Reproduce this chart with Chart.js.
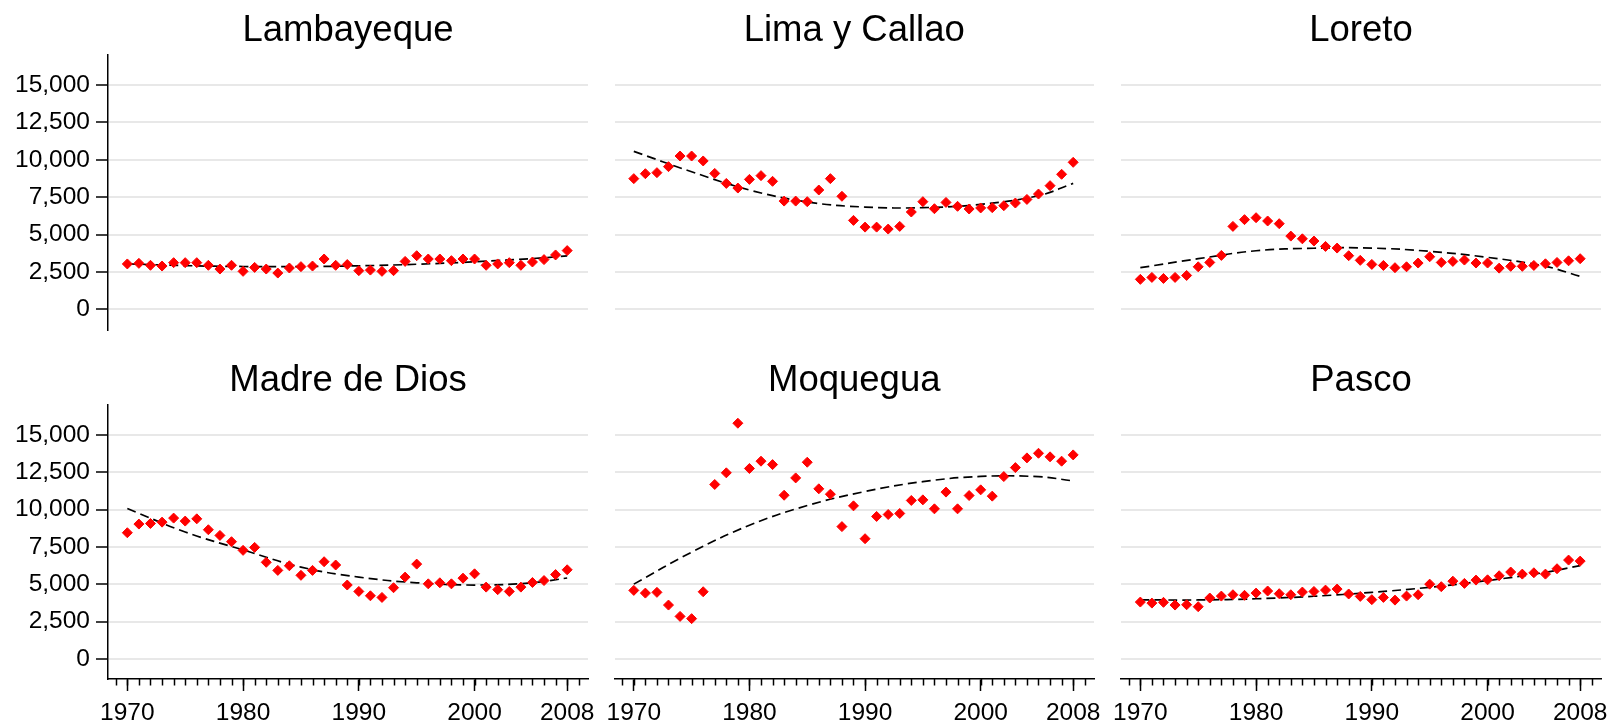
<!DOCTYPE html>
<html>
<head>
<meta charset="utf-8">
<script src="https://cdn.jsdelivr.net/npm/chart.js@4"></script>
<style>
  body { margin: 0; background: #fff; width: 1612px; height: 723px; overflow: hidden; position: relative; }
  canvas { position: absolute; }
</style>
</head>
<body>
<canvas id="c0"></canvas>
<canvas id="c1"></canvas>
<canvas id="c2"></canvas>
<canvas id="c3"></canvas>
<canvas id="c4"></canvas>
<canvas id="c5"></canvas>
<script>
const years = [1970, 1971, 1972, 1973, 1974, 1975, 1976, 1977, 1978, 1979,
  1980, 1981, 1982, 1983, 1984, 1985, 1986, 1987, 1988, 1989,
  1990, 1991, 1992, 1993, 1994, 1995, 1996, 1997, 1998, 1999,
  2000, 2001, 2002, 2003, 2004, 2005, 2006, 2007, 2008];
const fitYears = [1970, 1975, 1980, 1985, 1990, 1995, 2000, 2005, 2008];

const regions = ['Lambayeque', 'Lima y Callao', 'Loreto', 'Madre de Dios', 'Moquegua', 'Pasco'];

const lambayeque = [3040, 3080, 2950, 2900, 3125, 3125, 3125, 2950, 2700, 2950,
  2545, 2810, 2700, 2430, 2770, 2860, 2900, 3370, 2950, 3000,
  2590, 2630, 2545, 2590, 3210, 3590, 3370, 3370, 3260, 3370,
  3370, 2950, 3040, 3125, 2950, 3170, 3330, 3640, 3930];
const lambayequeFit = [3050, 2930, 2870, 2865, 2915, 3020, 3185, 3400, 3580];

const lima = [8740, 9070, 9140, 9540, 10250, 10250, 9920, 9090, 8420, 8110,
  8690, 8940, 8560, 7240, 7240, 7200, 7980, 8740, 7560, 5950,
  5500, 5500, 5370, 5550, 6510, 7200, 6730, 7150, 6890, 6710,
  6780, 6800, 6930, 7110, 7350, 7710, 8270, 9030, 9830];
const limaFit = [10560, 9200, 7980, 7180, 6840, 6800, 7020, 7600, 8420];

const loreto = [2010, 2140, 2070, 2140, 2270, 2850, 3140, 3610, 5550, 6000,
  6130, 5910, 5730, 4900, 4720, 4570, 4210, 4100, 3590, 3280,
  3010, 2940, 2790, 2850, 3100, 3520, 3140, 3210, 3300, 3100,
  3100, 2760, 2880, 2880, 2940, 3050, 3140, 3250, 3390];
const loretoFit = [2790, 3390, 3920, 4090, 4100, 3880, 3480, 2880, 2210];

const madreDeDios = [8450, 9030, 9070, 9160, 9430, 9230, 9380, 8650, 8270, 7850,
  7270, 7470, 6470, 5930, 6240, 5600, 5930, 6510, 6290, 4950,
  4520, 4230, 4120, 4770, 5480, 6350, 5030, 5100, 5030, 5410,
  5700, 4810, 4640, 4520, 4810, 5120, 5250, 5650, 5970];
const madreDeDiosFit = [10070, 8500, 7300, 6150, 5480, 5100, 4950, 5100, 5420];

const moquegua = [4590, 4410, 4460, 3610, 2850, 2700, 4500, 11680, 12460, 15780,
  12750, 13240, 13010, 10960, 12120, 13170, 11390, 11030, 8860, 10250,
  8050, 9540, 9670, 9740, 10610, 10650, 10050, 11170, 10050, 10940,
  11320, 10900, 12210, 12810, 13460, 13770, 13530, 13240, 13660];
const moqueguaFit = [5010, 7150, 8950, 10270, 11210, 11870, 12220, 12200, 11920];

const pasco = [3810, 3740, 3790, 3610, 3630, 3500, 4080, 4210, 4300, 4260,
  4410, 4550, 4370, 4300, 4480, 4520, 4610, 4680, 4350, 4190,
  3970, 4120, 3940, 4210, 4300, 5010, 4840, 5210, 5060, 5280,
  5300, 5570, 5820, 5680, 5770, 5680, 6040, 6620, 6550];
const pascoFit = [3960, 3950, 4030, 4200, 4460, 4800, 5250, 5800, 6250];

const yTickValues = [0, 2500, 5000, 7500, 10000, 12500, 15000];
const yTickLabels = ['0', '2,500', '5,000', '7,500', '10,000', '12,500', '15,000'];
const xTickValues = [1970, 1980, 1990, 2000, 2008];
const xTickLabels = ['1970', '1980', '1990', '2000', '2008'];

const pointSeries = [lambayeque, lima, loreto, madreDeDios, moquegua, pasco];
const fitSeries = [lambayequeFit, limaFit, loretoFit, madreDeDiosFit, moqueguaFit, pascoFit];

Chart.defaults.font.family = "'Liberation Sans', Arial, Helvetica, sans-serif";
Chart.defaults.color = '#000';

// canvas placement per column / row
const cols = [
  { left: 0, width: 598, padL: 0, padR: 10 },
  { left: 604, width: 500, padL: 10.5, padR: 10 },
  { left: 1111, width: 501, padL: 10, padR: 11 }
];
const rows = [
  { top: 0, height: 340, padB: 10.5 },
  { top: 350, height: 373, padB: 0 }
];

// small minor ticks under the x axis, one per year
const minorTicks = {
  id: 'minorTicks',
  afterDraw(chart) {
    const xs = chart.scales.x;
    if (!xs.options.display) return;
    const c = chart.ctx;
    const bottom = chart.chartArea.bottom;
    c.save();
    c.strokeStyle = '#000';
    c.lineWidth = 1.5;
    for (let yr = Math.ceil(xs.min); yr <= Math.floor(xs.max); yr++) {
      const px = Math.round(xs.getPixelForValue(yr)) + 0.5;
      c.beginPath();
      c.moveTo(px, bottom);
      c.lineTo(px, bottom + 6.5);
      c.stroke();
    }
    c.restore();
  }
};

regions.forEach((name, i) => {
  const col = cols[i % 3];
  const row = rows[Math.floor(i / 3)];
  const isLeft = i % 3 === 0;
  const isBottom = i >= 3;

  const canvas = document.getElementById('c' + i);
  canvas.width = col.width;
  canvas.height = row.height;
  canvas.style.left = col.left + 'px';
  canvas.style.top = row.top + 'px';

  new Chart(canvas, {
    type: 'scatter',
    data: {
      datasets: [
        {
          label: name,
          data: years.map((x, k) => ({ x: x, y: pointSeries[i][k] })),
          pointStyle: 'rectRot',
          pointRadius: 5,
          backgroundColor: '#ff0000',
          borderColor: '#ff0000',
          borderWidth: 1,
          order: 0
        },
        {
          type: 'line',
          label: 'fit',
          data: fitYears.map((x, k) => ({ x: x, y: fitSeries[i][k] })),
          borderColor: '#000',
          borderWidth: 1.7,
          borderDash: [9, 5],
          pointRadius: 0,
          tension: 0.4,
          fill: false,
          order: 1
        }
      ]
    },
    options: {
      responsive: false,
      animation: false,
      layout: { padding: { left: col.padL, right: col.padR, top: 0, bottom: row.padB } },
      plugins: {
        legend: { display: false },
        tooltip: { enabled: false },
        title: {
          display: true,
          text: name,
          fullSize: false,
          color: '#000',
          font: { size: 36.5, weight: 'normal' },
          padding: { top: 8.95, bottom: 2.25 }
        }
      },
      scales: {
        x: {
          type: 'linear',
          min: 1968.33,
          max: 2009.8,
          display: isBottom,
          afterBuildTicks: s => { s.ticks = xTickValues.map(v => ({ value: v })); },
          afterFit: s => {
            s.height = isBottom ? 44 : 0;
            // end labels may spill into the gap between panels
            s.paddingLeft = 0;
            s.paddingRight = 0;
          },
          ticks: {
            autoSkip: false,
            maxRotation: 0,
            padding: 8,
            font: { size: 24.5 },
            color: '#000',
            callback: v => xTickLabels[xTickValues.indexOf(v)]
          },
          grid: { drawOnChartArea: false, tickLength: 12, tickColor: '#000', tickWidth: 1.5 },
          border: { display: true, color: '#000', width: 1.5 }
        },
        y: {
          type: 'linear',
          min: -1340,
          max: 17000,
          afterBuildTicks: s => { s.ticks = yTickValues.map(v => ({ value: v })); },
          afterFit: s => {
            s.width = isLeft ? 108 : 0;
            // labels sit well inside the axis range, no extra room needed
            s.paddingTop = 0;
            s.paddingBottom = 0;
          },
          ticks: {
            display: isLeft,
            padding: 6,
            font: { size: 24.5 },
            color: '#000',
            callback: v => yTickLabels[yTickValues.indexOf(v)]
          },
          grid: {
            color: '#e8e8e8',
            lineWidth: 2,
            drawTicks: isLeft,
            tickLength: 12,
            tickColor: '#000',
            tickWidth: 1.5
          },
          border: { display: isLeft, color: '#000', width: 1.5 }
        }
      }
    },
    plugins: [minorTicks]
  });
});
</script>
</body>
</html>
